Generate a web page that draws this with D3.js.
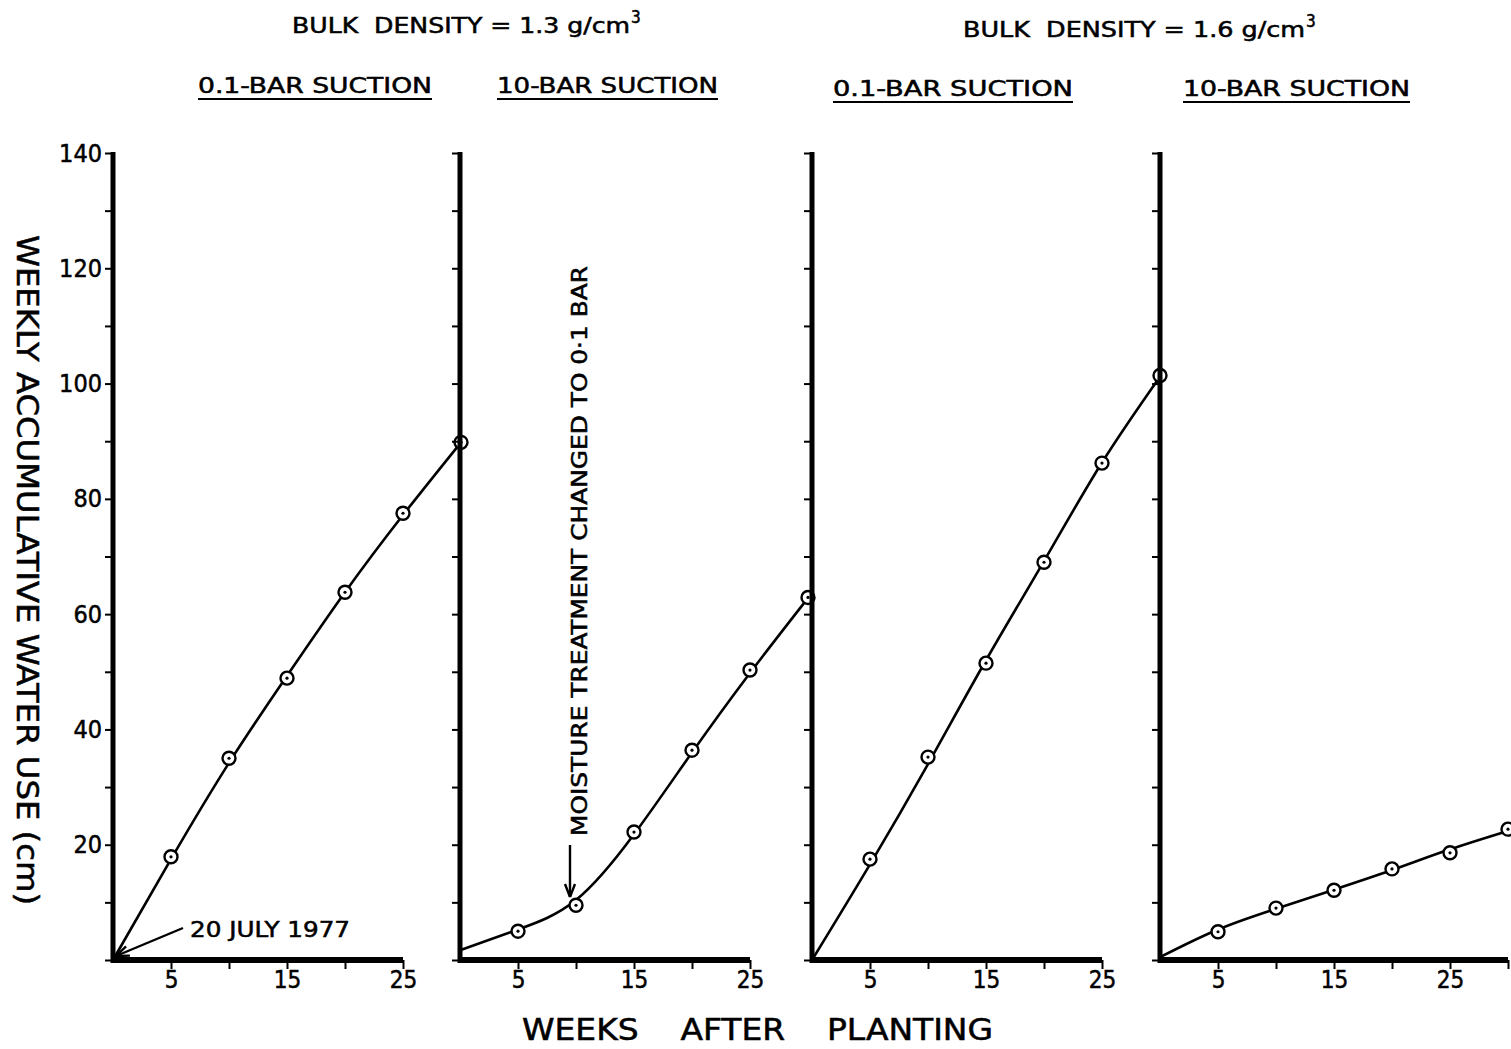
<!DOCTYPE html>
<html>
<head>
<meta charset="utf-8">
<script src="https://cdn.jsdelivr.net/npm/d3@7"></script>
<style>
  html, body { margin: 0; padding: 0; background: #fff; }
  svg { display: block; }
  text { font-family: "DejaVu Sans Condensed", "DejaVu Sans", sans-serif; fill: #000; stroke: #000; stroke-width: 0.5; }
</style>
</head>
<body>
<svg id="chart" width="1511" height="1049"></svg>
<script>
// Weeks after planting at which water use was measured
const weeks = [5, 10, 15, 20, 25, 30];
// Weeks at which the smoothed curves are defined
const curveWeeks = [0, 5, 10, 15, 20, 25, 30];

// Panel headings
const densityTitles = ["BULK  DENSITY = 1.3 g/cm", "BULK  DENSITY = 1.6 g/cm"];
const suctionTitles = ["0.1-BAR SUCTION", "10-BAR SUCTION", "0.1-BAR SUCTION", "10-BAR SUCTION"];

// Observed weekly accumulative water use (cm)
const bd13Suction01 = [17.9, 35.0, 48.9, 63.8, 77.5, 89.8];
const bd13Suction10 = [5.0, 9.5, 22.2, 36.4, 50.3, 62.9];
const bd16Suction01 = [17.5, 35.2, 51.5, 69.0, 86.2, 101.4];
const bd16Suction10 = [4.9, 9.0, 12.1, 15.8, 18.6, 22.7];

// Fitted curves (cm)
const bd13Suction01Fit = [0, 17.5, 34.2, 49.3, 63.8, 77.2, 89.8];
const bd13Suction10Fit = [1.7, 5.3, 10.4, 21.8, 36.0, 49.8, 62.8];
const bd16Suction01Fit = [0, 16.6, 34.0, 52.0, 69.2, 86.3, 101.2];
const bd16Suction10Fit = [0.5, 5.3, 8.9, 12.2, 15.6, 19.2, 22.4];

// Axis ticks
const yTicks = [0, 10, 20, 30, 40, 50, 60, 70, 80, 90, 100, 110, 120, 130, 140];
const yTickLabels = [20, 40, 60, 80, 100, 120, 140];
const xTicks = [5, 10, 15, 20, 25, 30];
const xTickLabels = [5, 15, 25];

const panels = [
  { obs: bd13Suction01, fit: bd13Suction01Fit, xMax: 25 },
  { obs: bd13Suction10, fit: bd13Suction10Fit, xMax: 25 },
  { obs: bd16Suction01, fit: bd16Suction01Fit, xMax: 25 },
  { obs: bd16Suction10, fit: bd16Suction10Fit, xMax: 30 }
];
const panelLeft = [113, 460, 812, 1160];
const panelWidth = 348;

const svg = d3.select("#chart");
const y = d3.scaleLinear().domain([0, 140]).range([960, 153]);

panels.forEach((p, i) => {
  const x = d3.scaleLinear().domain([0, 30]).range([panelLeft[i], panelLeft[i] + panelWidth]);
  const g = svg.append("g");

  // y axis ticks
  const yAxis = d3.axisLeft(y).tickValues(yTicks).tickSize(8)
    .tickFormat(d => (i === 0 && yTickLabels.includes(d)) ? d : "");
  const ya = g.append("g").attr("transform", `translate(${x(0)},0)`).call(yAxis);
  ya.select(".domain").remove();
  ya.selectAll(".tick line").attr("stroke", "#000").attr("stroke-width", 2);
  ya.selectAll(".tick text").attr("x", -11).attr("font-size", 25).attr("fill", "#000")
    .attr("font-family", "'DejaVu Sans Condensed', 'DejaVu Sans', sans-serif");

  // x axis ticks
  const xAxis = d3.axisBottom(x).tickValues(xTicks.filter(t => t <= p.xMax)).tickSize(9)
    .tickFormat(d => xTickLabels.includes(d) ? d : "");
  const xa = g.append("g").attr("transform", `translate(0,${y(0)})`).call(xAxis);
  xa.select(".domain").remove();
  xa.selectAll(".tick line").attr("stroke", "#000").attr("stroke-width", 2);
  xa.selectAll(".tick text").attr("y", 11).attr("font-size", 24).attr("fill", "#000")
    .attr("font-family", "'DejaVu Sans Condensed', 'DejaVu Sans', sans-serif");

  // heavy axis lines
  g.append("line").attr("x1", x(0)).attr("x2", x(0)).attr("y1", y(140) - 1).attr("y2", y(0) + 3)
    .attr("stroke", "#000").attr("stroke-width", 5);
  g.append("line").attr("x1", x(0) - 2).attr("x2", x(p.xMax)).attr("y1", y(0)).attr("y2", y(0))
    .attr("stroke", "#000").attr("stroke-width", 6);

  // fitted curve
  const line = d3.line().x((d, k) => x(curveWeeks[k])).y(d => y(d)).curve(d3.curveNatural);
  g.append("path").datum(p.fit).attr("d", line)
    .attr("fill", "none").attr("stroke", "#000").attr("stroke-width", 2.6);

  // observed points
  const pts = g.selectAll("g.pt").data(p.obs).join("g").attr("class", "pt")
    .attr("transform", (d, k) => `translate(${x(weeks[k])},${y(d)})`);
  pts.append("circle").attr("r", 6.5).attr("fill", "#fff").attr("stroke", "#000").attr("stroke-width", 2.4);
  pts.append("circle").attr("r", 1.6).attr("fill", "#000");
});

// Headings
const headSpan = [[292, 630, 33], [963, 1305, 37]];
densityTitles.forEach((t, i) => {
  const [a, b, yy] = headSpan[i];
  svg.append("text").attr("x", a).attr("y", yy).attr("font-size", 22)
    .attr("textLength", b - a).attr("lengthAdjust", "spacingAndGlyphs")
    .attr("xml:space", "preserve").text(t);
  svg.append("text").attr("x", b + 1).attr("y", yy - 10).attr("font-size", 17).text("3");
});

const subX = [[198, 432], [497, 718], [833, 1073], [1183, 1410]];
const subY = [93, 93, 96, 96];
suctionTitles.forEach((t, i) => {
  const [a, b] = subX[i];
  svg.append("text").attr("x", a).attr("y", subY[i])
    .attr("font-size", 22).attr("textLength", b - a).attr("lengthAdjust", "spacingAndGlyphs").text(t);
  svg.append("line").attr("x1", a).attr("x2", b).attr("y1", subY[i] + 6).attr("y2", subY[i] + 6)
    .attr("stroke", "#000").attr("stroke-width", 2);
});

// Axis titles
svg.append("text").attr("transform", "translate(17,235) rotate(90)")
  .attr("font-size", 31).attr("textLength", 670).attr("lengthAdjust", "spacingAndGlyphs")
  .text("WEEKLY ACCUMULATIVE WATER USE (cm)");

svg.append("text").attr("x", 522).attr("y", 1040)
  .attr("font-size", 30).attr("textLength", 471).attr("lengthAdjust", "spacingAndGlyphs")
  .attr("xml:space", "preserve")
  .text("WEEKS    AFTER    PLANTING");

// Annotations
const arrowHead = (sel, x, yy, angle) => {
  sel.append("path").attr("d", "M0,0 L-13,-5 M0,0 L-13,5")
    .attr("transform", `translate(${x},${yy}) rotate(${angle})`)
    .attr("fill", "none").attr("stroke", "#000").attr("stroke-width", 2.4);
};

// planting date, pointing at the origin of the first panel
const xp1 = d3.scaleLinear().domain([0, 30]).range([panelLeft[0], panelLeft[0] + panelWidth]);
const ox = xp1(0) + 3, oy = y(0) - 4;
svg.append("line").attr("x1", 183).attr("y1", 928).attr("x2", ox).attr("y2", oy)
  .attr("stroke", "#000").attr("stroke-width", 2.4);
arrowHead(svg, ox, oy, Math.atan2(oy - 928, ox - 183) * 180 / Math.PI);
svg.append("text").attr("x", 190).attr("y", 937).attr("font-size", 22)
  .attr("textLength", 160).attr("lengthAdjust", "spacingAndGlyphs").text("20 JULY 1977");

// change of moisture treatment, pointing at week 10 of the 1.3 g/cm3, 10-bar panel
const xp2 = d3.scaleLinear().domain([0, 30]).range([panelLeft[1], panelLeft[1] + panelWidth]);
const ax = xp2(10) - 6, ay = y(bd13Suction10Fit[2]) - 3;
svg.append("line").attr("x1", ax).attr("x2", ax).attr("y1", 845).attr("y2", ay)
  .attr("stroke", "#000").attr("stroke-width", 2.4);
arrowHead(svg, ax, ay, 90);
svg.append("text").attr("transform", "translate(587,836) rotate(-90)")
  .attr("font-size", 22).attr("textLength", 570).attr("lengthAdjust", "spacingAndGlyphs")
  .text("MOISTURE  TREATMENT  CHANGED  TO  0·1 BAR");
</script>
</body>
</html>
